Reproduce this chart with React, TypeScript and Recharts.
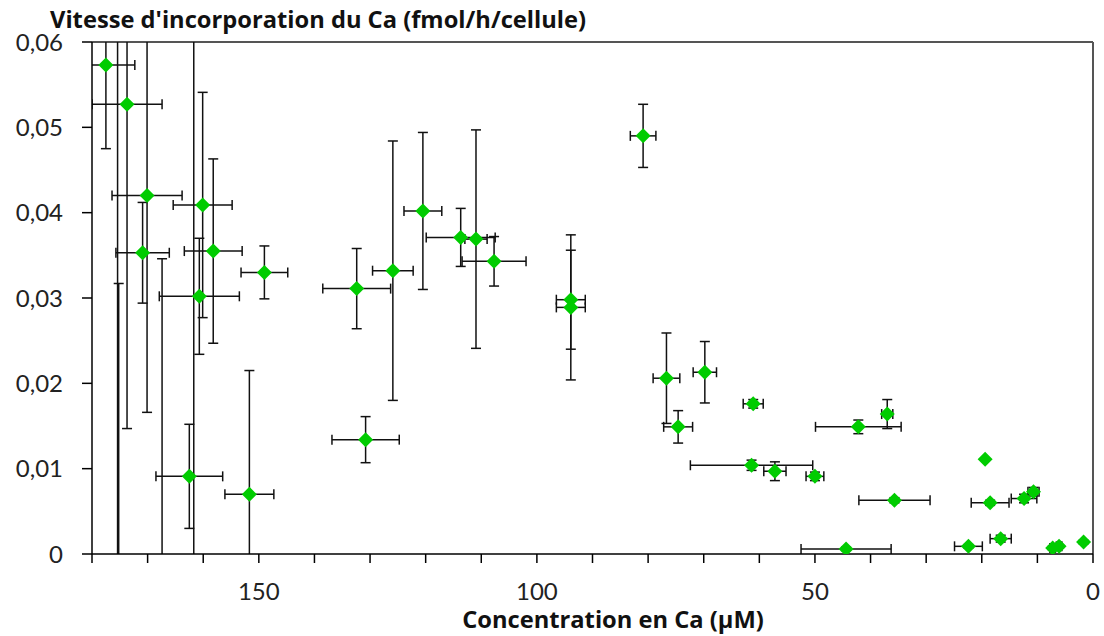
import { ScatterChart, Scatter, XAxis, YAxis, ErrorBar, ReferenceLine } from 'recharts';

// concentration en Ca (µM); the last four are off-scale
// points whose error bars still cross the plot
const concCa = [
  177.5, 173.7, 170.1, 170.9, 160.1, 158.2, 160.7, 162.5, 151.7, 149.0,
  132.4, 130.8, 125.9, 120.5, 113.7, 110.95, 107.7, 93.9, 93.9, 80.9,
  76.7, 74.6, 69.8, 61.1, 61.4, 57.2, 50.0, 42.2, 37.0, 35.7,
  44.4, 19.4, 18.5, 12.4, 10.7, 22.4, 16.6, 7.25, 6.1, 1.7,
  175.4, 175.2, 167.4, 161.7,
];

// vitesse d'incorporation (fmol/h/cellule)
const vitesse = [
  0.0573, 0.0527, 0.042, 0.0353, 0.0409, 0.0355, 0.0302, 0.0091, 0.007, 0.033,
  0.0311, 0.0134, 0.0332, 0.0402, 0.0371, 0.0369, 0.0343, 0.0298, 0.0289, 0.049,
  0.0206, 0.0149, 0.0213, 0.0176, 0.0104, 0.0097, 0.0091, 0.0149, 0.0164, 0.0063,
  0.0006, 0.0111, 0.006, 0.0065, 0.0073, 0.0009, 0.0018, 0.0007, 0.0009, 0.0014,
  -0.005, -0.004, -0.004, -0.006,
];

const errConc = [
  5.2, 6.3, 6.3, 4.8, 5.3, 5.2, 7.2, 6.0, 4.4, 4.2,
  6.1, 6.05, 3.65, 3.4, 6.2, 2.0, 5.75, 2.6, 2.6, 2.3,
  2.4, 2.6, 2.1, 1.8, 11.0, 2.0, 1.6, 7.7, 1.0, 6.4,
  8.1, 0, 3.4, 2.3, 1.0, 2.5, 1.9, 0.5, 0.5, 0.3,
  0, 0, 0, 0,
];

const errVitesse = [
  0.0098, 0.038, 0.0254, 0.0059, 0.0132, 0.0108, 0.0068, 0.0061, 0.0145, 0.0031,
  0.0047, 0.0027, 0.0152, 0.0092, 0.0034, 0.0128, 0.0029, 0.0058, 0.0085, 0.0037,
  0.0053, 0.0019, 0.0036, 0.0005, 0.0006, 0.0011, 0.0005, 0.0008, 0.0017, 0.0003,
  0.0002, 0, 0.0003, 0.0005, 0.0005, 0.0002, 0.0004, 0.0002, 0.0002, 0.0002,
  0.07, 0.0357, 0.0386, 0.07,
];

const xTicks = [0, 10, 20, 30, 40, 50, 60, 70, 80, 90, 100, 110, 120, 130, 140, 150, 160, 170, 180];
const xLabels = [150, 100, 50, 0];
const yTicks = [0, 0.01, 0.02, 0.03, 0.04, 0.05, 0.06];

const points = concCa.map((x, i) => ({
  x,
  y: vitesse[i],
  ex: errConc[i],
  ey: errVitesse[i],
}));

const FONT = 'Lato, "Open Sans", sans-serif';
const TITLE_FONT = '"Open Sans", Lato, sans-serif';

const Diamond = (props: any) => {
  const { cx, cy } = props;
  const r = 7.5;
  return (
    <path
      d={`M${cx},${cy - r}L${cx + r},${cy}L${cx},${cy + r}L${cx - r},${cy}Z`}
      fill="#00cc00"
    />
  );
};

const fmtY = (v: number) => (v === 0 ? '0' : v.toFixed(2).replace('.', ','));
const fmtX = (v: number) => (xLabels.includes(v) ? String(v) : '');

export default function App() {
  return (
    <div style={{ position: 'absolute', left: 0, top: 0, width: 1104, height: 636, background: '#fff' }}>
      {/* error bars that run past the frame get cut at the plot edges */}
      <style>{`
        .recharts-scatter,
        .recharts-errorBars,
        .recharts-errorBar { clip-path: url(#plotClip); }
      `}</style>
      <svg width={0} height={0} style={{ position: 'absolute' }}>
        <defs>
          <clipPath id="plotClip" clipPathUnits="userSpaceOnUse">
            <rect x={92} y={42} width={1001} height={512} />
          </clipPath>
        </defs>
      </svg>
      <ScatterChart width={1104} height={636} margin={{ top: 42, right: 11, bottom: 0, left: 0 }}>
        <XAxis
          type="number"
          dataKey="x"
          domain={[0, 180]}
          reversed
          allowDataOverflow
          ticks={xTicks}
          interval={0}
          tickFormatter={fmtX}
          height={82}
          tickSize={9}
          tickMargin={20}
          axisLine={{ stroke: '#000', strokeWidth: 1.5 }}
          tickLine={{ stroke: '#000', strokeWidth: 1.5 }}
          tick={{ fill: '#222', fontSize: 24, fontFamily: FONT }}
        />
        <YAxis
          type="number"
          dataKey="y"
          domain={[0, 0.06]}
          allowDataOverflow
          ticks={yTicks}
          interval={0}
          tickFormatter={fmtY}
          width={92}
          tickSize={10}
          tickMargin={19}
          axisLine={{ stroke: '#000', strokeWidth: 1.5 }}
          tickLine={{ stroke: '#000', strokeWidth: 1.5 }}
          tick={{ fill: '#222', fontSize: 24, fontFamily: FONT }}
        />
        <ReferenceLine y={0.06} stroke="#555" strokeWidth={2} />
        <ReferenceLine x={0} stroke="#555" strokeWidth={2} />
        <Scatter data={points} shape={Diamond} isAnimationActive={false}>
          <ErrorBar dataKey="ex" direction="x" width={5} stroke="#111" strokeWidth={1.5} />
          <ErrorBar dataKey="ey" direction="y" width={5} stroke="#111" strokeWidth={1.5} />
        </Scatter>
      </ScatterChart>
      <svg
        width={1104}
        height={636}
        style={{ position: 'absolute', left: 0, top: 0, pointerEvents: 'none' }}
      >
        <text x={50} y={28} fontFamily={TITLE_FONT} fontWeight="bold" fontSize={23.7} fill="#111">
          Vitesse d'incorporation du Ca (fmol/h/cellule)
        </text>
        <text x={613} y={628} textAnchor="middle" fontFamily={TITLE_FONT} fontWeight="bold" fontSize={23.7} fill="#111">
          Concentration en Ca (µM)
        </text>
      </svg>
    </div>
  );
}
